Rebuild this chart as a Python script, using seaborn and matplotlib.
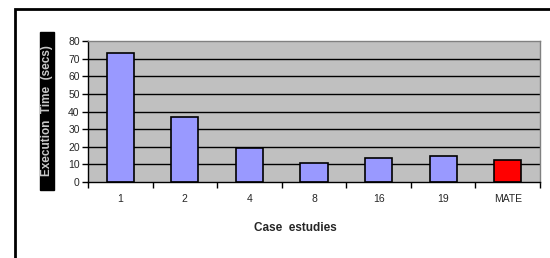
import matplotlib
matplotlib.use("Agg")
import matplotlib.pyplot as plt
import seaborn as sns
import numpy as np
from matplotlib.patches import Rectangle

cases = ["1", "2", "4", "8", "16", "19", "MATE"]
exec_time = [73, 37, 19.5, 11, 13.5, 15, 12.5]
bar_colors = ["#9999FF"] * 6 + ["#FF0000"]
y_ticks = [0, 10, 20, 30, 40, 50, 60, 70, 80]

sns.set_theme(style="white")
plt.rcParams['font.family'] = ['Liberation Sans', 'DejaVu Sans']

fig = plt.figure(figsize=(5.5, 2.58), dpi=100)
fig.patch.set_facecolor("white")

# outer frame (right and bottom edges lie outside the image)
fig.patches.append(Rectangle((15 / 550, -0.1), 1.0, (258 - 9) / 258 + 0.1,
                             transform=fig.transFigure, fill=False,
                             edgecolor="black", linewidth=2))

ax = fig.add_axes([88 / 550, (258 - 182) / 258, 452 / 550, 141 / 258])
ax.set_facecolor("#C0C0C0")

sns.barplot(x=cases, y=exec_time, hue=cases, palette=bar_colors, order=cases,
            legend=False, width=0.42, saturation=1, edgecolor="black",
            linewidth=1.2, ax=ax)

ax.set_xlim(-0.5, len(cases) - 0.5)
ax.set_ylim(0, 80)
ax.set_yticks(y_ticks)
for y in y_ticks[1:-1]:
    ax.axhline(y, color="black", linewidth=1.0, zorder=0.5)

ax.tick_params(axis="y", direction="out", length=4, width=1, color="black",
               labelsize=7.5, pad=2, left=True)
ax.tick_params(axis="x", which="major", length=0, labelsize=7.5, pad=9)
ax.set_xticks(np.arange(-0.5, len(cases)), minor=True)
ax.tick_params(axis="x", which="minor", direction="out", length=4, width=1,
               color="black", bottom=True)

for side in ["left", "bottom"]:
    ax.spines[side].set_color("black")
    ax.spines[side].set_linewidth(1.0)
for side in ["top", "right"]:
    ax.spines[side].set_color("#808080")
    ax.spines[side].set_linewidth(1.0)

ax.set_xlabel("")
ax.set_ylabel("")
fig.text(295 / 550, 1 - 228 / 258, "Case  estudies", ha="center", va="center",
         fontsize=8.5, fontweight="bold")

# y-axis title box
fig.patches.append(Rectangle((40 / 550, 1 - 190 / 258), 14 / 550, 158 / 258,
                             transform=fig.transFigure, facecolor="black",
                             edgecolor="black"))
fig.text(47.5 / 550, 1 - 111 / 258, "Execution  Time  (secs)", rotation=90,
         ha="center", va="center", fontsize=8.5, color="#C8C8C8",
         fontweight="bold")

fig.savefig("out.png", dpi=100)
